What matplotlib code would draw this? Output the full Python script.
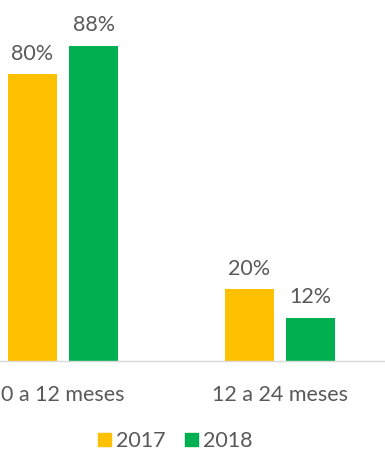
import matplotlib
matplotlib.use("Agg")
import matplotlib.pyplot as plt
import numpy as np
from matplotlib.patches import Patch

matplotlib.rcParams["font.family"] = ["Lato", "DejaVu Sans"]

categories = ["0 a 12 meses", "12 a 24 meses"]
series_names = ["2017", "2018"]
values_2017 = [80, 20]
values_2018 = [88, 12]
colors = ["#FFC000", "#00B050"]
TEXT = "#595959"
FS = 15.5

fig = plt.figure(figsize=(3.85, 4.55), dpi=100)
ax = fig.add_axes([0, 94 / 455, 1, 361 / 455])

x = np.arange(len(categories))
width = 0.226
offset = 0.142
for vals, col, off in [(values_2017, colors[0], -offset), (values_2018, colors[1], offset)]:
    bars = ax.bar(x + off, vals, width=width, color=col)
    for b, v in zip(bars, vals):
        ax.text(b.get_x() + b.get_width() / 2, v + 3.0, f"{v}%",
                ha="center", va="bottom", fontsize=FS, color=TEXT)

ax.set_xlim(-0.29, 1.484)
ax.set_ylim(0, 100.8)
ax.set_yticks([])
ax.set_xticks(x)
ax.set_xticklabels(categories, fontsize=FS, color=TEXT)
ax.tick_params(axis="x", length=0, pad=17)
for s in ["top", "right", "left"]:
    ax.spines[s].set_visible(False)
ax.spines["bottom"].set_color("#D9D9D9")
ax.spines["bottom"].set_linewidth(1)

handles = [Patch(color=c) for c in colors]
fig.legend(handles, series_names, loc="center", bbox_to_anchor=(0.455, 1 - 441 / 455),
           ncol=2, frameon=False, fontsize=FS, labelcolor=TEXT,
           handlelength=0.6, handleheight=0.6, handletextpad=0.25, columnspacing=0.9)

fig.savefig("out.png", dpi=100)
